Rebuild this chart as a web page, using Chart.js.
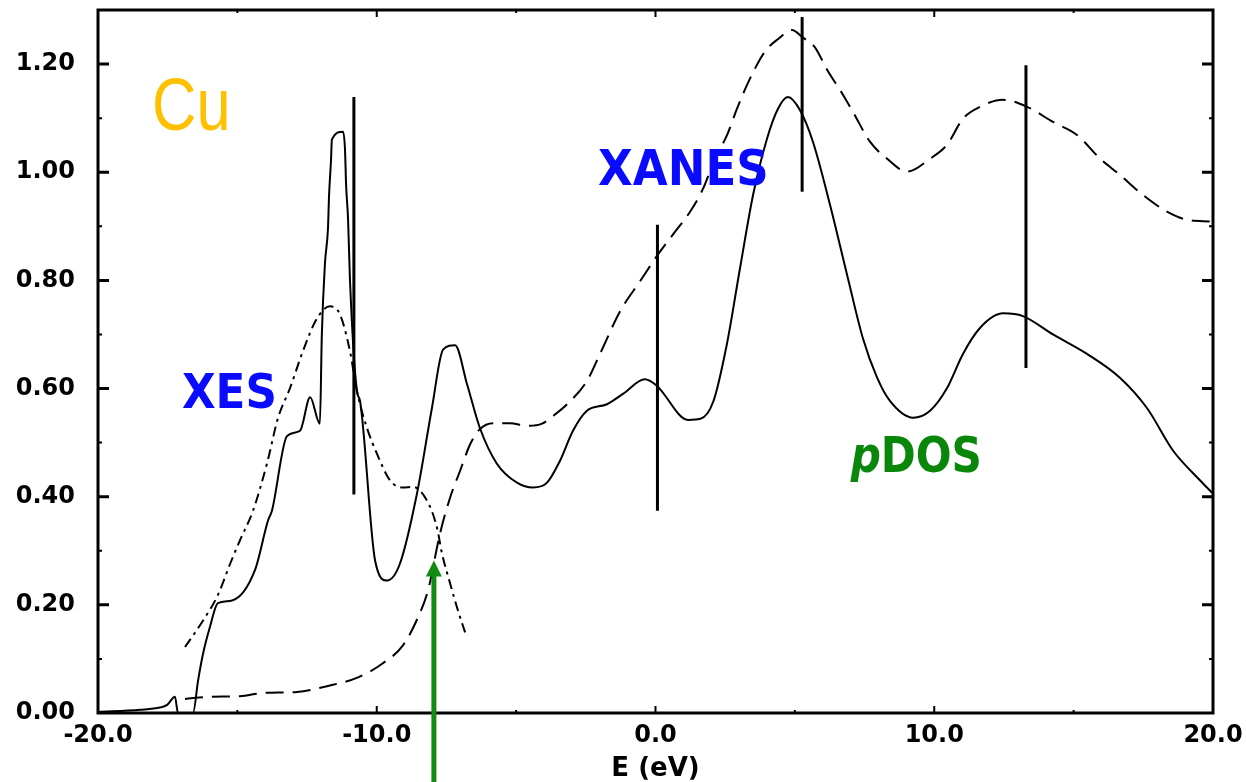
<!DOCTYPE html>
<html>
<head>
<meta charset="utf-8">
<script src="https://cdn.jsdelivr.net/npm/chart.js@4.4.1/dist/chart.umd.min.js"></script>
<style>
  html, body { margin: 0; padding: 0; background: #fff; overflow: hidden; }
  canvas { display: block; }
</style>
</head>
<body>
<canvas id="spectrumChart" width="1246" height="782"></canvas>
<script>
// Cu K-edge: XES, XANES and p-DOS, energy relative to E_F

const xTickValues = [-20, -10, 0, 10, 20];
const xTickLabels = ['-20.0', '-10.0', '0.0', '10.0', '20.0'];
const xTickMarks = [-15, -10, -5, 0, 5, 10, 15];
const yTickValues = [0, 0.2, 0.4, 0.6, 0.8, 1.0, 1.2];
const yTickLabels = ['0.00', '0.20', '0.40', '0.60', '0.80', '1.00', '1.20'];
const yTickMarks = [0.1, 0.2, 0.3, 0.4, 0.5, 0.6, 0.7, 0.8, 0.9, 1.0, 1.1, 1.2];

// p-DOS (solid)
const pdosE = [-20, -18.49, -17.78, -17.52, -17.24, -17.13, -16.59, -16.41, -16.23, -15.98, -15.70, -15.19,
  -14.37, -13.90, -13.76, -13.22, -12.75, -12.39, -12.04, -11.97, -11.86, -11.75, -11.71, -11.64, -11.61,
  -11.21, -11.14, -11.10, -11.03, -10.96, -10.71, -10.60, -10.06, -9.63, -9.17, -8.56, -8.02, -7.62,
  -7.19, -6.76, -6.30, -5.69, -4.97, -4.39, -3.89, -3.43, -2.96, -2.46, -1.74, -1.17, -0.38, 0.05,
  0.16, 1.17, 1.61, 2.08, 2.56, 3.03, 3.50, 4.00, 4.39, 4.75, 5.18, 5.65, 6.26, 6.87, 7.44, 7.95,
  8.41, 9.24, 9.85, 10.46, 11.03, 11.64, 12.47, 13.18, 14.26, 15.48, 16.66, 17.63, 18.57, 19.54, 19.97];
const pdosValues = [0.002, 0.006, 0.010, 0.015, 0.030, 0.0, 0.0, 0.06, 0.11, 0.16, 0.203, 0.208,
  0.264, 0.356, 0.374, 0.512, 0.522, 0.584, 0.535, 0.70, 0.83, 0.896, 0.958, 1.023, 1.06,
  1.075, 1.043, 0.977, 0.914, 0.80, 0.595, 0.577, 0.282, 0.245, 0.276, 0.405, 0.564, 0.672,
  0.680, 0.608, 0.527, 0.461, 0.426, 0.417, 0.426, 0.466, 0.522, 0.559, 0.571, 0.590, 0.617, 0.605,
  0.599, 0.542, 0.544, 0.577, 0.682, 0.822, 0.958, 1.062, 1.117, 1.139, 1.115, 1.056, 0.940, 0.811, 0.693, 0.620,
  0.577, 0.546, 0.559, 0.601, 0.664, 0.712, 0.739, 0.734, 0.700, 0.664, 0.620, 0.564, 0.485, 0.430, 0.407];

// XANES (long dashes)
const xanesE = [-16.88, -15.98, -14.91, -14.08, -12.86, -11.75, -10.67, -9.78, -9.06, -8.52, -8.16, -7.73,
  -7.37, -7.01, -6.65, -6.30, -5.83, -5.22, -4.61, -4.07, -3.68, -3.17, -2.46, -1.99, -1.27, -0.56,
  0.09, 0.63, 1.24, 1.71, 2.13, 2.57, 2.92, 3.28, 3.75, 4.00, 4.39, 4.90, 5.26, 5.72, 6.15, 6.73,
  7.09, 7.70, 8.31, 9.02, 9.85, 10.46, 11.03, 11.64, 12.47, 13.33, 14.26, 15.12, 15.95, 16.66, 17.49,
  18.35, 19.07, 19.89];
const xanesValues = [0.026, 0.030, 0.031, 0.037, 0.039, 0.050, 0.066, 0.092, 0.125, 0.177, 0.227, 0.332,
  0.398, 0.448, 0.497, 0.525, 0.536, 0.536, 0.531, 0.535, 0.549, 0.571, 0.614, 0.664, 0.743, 0.798,
  0.848, 0.885, 0.927, 0.970, 1.025, 1.069, 1.117, 1.161, 1.209, 1.228, 1.246, 1.263, 1.250, 1.231, 1.190, 1.143,
  1.111, 1.056, 1.025, 1.001, 1.025, 1.051, 1.099, 1.121, 1.134, 1.121, 1.093, 1.069, 1.025, 0.995, 0.958,
  0.927, 0.912, 0.909];

// XES (dash-dot)
const xesE = [-16.88, -16.23, -15.70, -15.26, -14.91, -14.44, -13.94, -13.54, -13.11, -12.65, -12.14,
  -11.68, -11.32, -10.96, -10.71, -10.35, -9.99, -9.52, -9.06, -8.70, -8.20, -7.84, -7.66, -7.37, -7.12, -6.83];
const xesValues = [0.122, 0.171, 0.218, 0.276, 0.319, 0.374, 0.461, 0.546, 0.601, 0.669, 0.730,
  0.752, 0.737, 0.669, 0.595, 0.527, 0.479, 0.430, 0.417, 0.418, 0.393, 0.343, 0.295, 0.240, 0.195, 0.149];

// vertical marker lines
const markerE = [-10.82, 0.07, 5.26, 13.29];
const markerTop = [1.139, 0.903, 1.287, 1.198];
const markerBottom = [0.404, 0.374, 0.964, 0.638];

// green arrow (energy, value of the tip)
const arrowE = -7.95;
const arrowTip = 0.282;

const labelFont = "'DejaVu Sans', sans-serif";
const textNotes = [
  { parts: [{ text: 'Cu', font: "74px 'Liberation Sans', sans-serif" }], x: -18.06, y: 1.078, scaleX: 0.83, color: '#ffc000' },
  { parts: [{ text: 'XANES', font: 'bold 49px ' + labelFont }], x: -2.06, y: 0.977, scaleX: 0.92, color: '#0a0aff' },
  { parts: [{ text: 'XES', font: 'bold 48px ' + labelFont }], x: -16.99, y: 0.564, scaleX: 0.91, color: '#0a0aff' },
  { parts: [{ text: 'p', font: 'italic bold 49px ' + labelFont }, { text: 'DOS', font: 'bold 49px ' + labelFont }],
    x: 7.0, y: 0.445, scaleX: 0.86, color: '#0a870a' }
];

function toPoints(xs, ys) {
  return xs.map((x, i) => ({ x: x, y: ys[i] }));
}

const datasets = [
  {
    data: toPoints(pdosE, pdosValues),
    borderColor: '#000', borderWidth: 2, cubicInterpolationMode: 'monotone'
  },
  {
    data: toPoints(xanesE, xanesValues),
    borderColor: '#000', borderWidth: 2, borderDash: [18, 9], cubicInterpolationMode: 'monotone'
  },
  {
    data: toPoints(xesE, xesValues),
    borderColor: '#000', borderWidth: 2, borderDash: [10, 5, 3, 5], cubicInterpolationMode: 'monotone'
  }
];
markerE.forEach((e, i) => {
  datasets.push({
    data: [{ x: e, y: markerBottom[i] }, { x: e, y: markerTop[i] }],
    borderColor: '#000', borderWidth: 3
  });
});

// frame, inward tick marks, text notes and arrow
const decorPlugin = {
  id: 'decor',
  afterDraw(chart) {
    const ctx = chart.ctx;
    const area = chart.chartArea;
    const xs = chart.scales.x;
    const ys = chart.scales.y;
    ctx.save();
    ctx.strokeStyle = '#000';

    ctx.lineWidth = 2;
    xTickMarks.forEach(v => {
      const px = xs.getPixelForValue(v);
      const len = v % 10 === 0 ? 7 : 3;
      ctx.beginPath();
      ctx.moveTo(px, area.bottom); ctx.lineTo(px, area.bottom - len);
      ctx.moveTo(px, area.top); ctx.lineTo(px, area.top + len);
      ctx.stroke();
    });
    yTickMarks.forEach(v => {
      const py = ys.getPixelForValue(v);
      const major = Math.abs(v * 5 - Math.round(v * 5)) < 1e-6;
      const len = major ? 11 : 4;
      ctx.lineWidth = major ? 3 : 2;
      ctx.beginPath();
      ctx.moveTo(area.left, py); ctx.lineTo(area.left + len, py);
      ctx.moveTo(area.right, py); ctx.lineTo(area.right - len, py);
      ctx.stroke();
    });

    ctx.lineWidth = 3;
    ctx.strokeRect(area.left, area.top, area.right - area.left, area.bottom - area.top);

    textNotes.forEach(note => {
      ctx.save();
      ctx.translate(xs.getPixelForValue(note.x), ys.getPixelForValue(note.y));
      ctx.scale(note.scaleX, 1);
      ctx.fillStyle = note.color;
      ctx.textBaseline = 'alphabetic';
      ctx.textAlign = 'left';
      let px = 0;
      note.parts.forEach(part => {
        ctx.font = part.font;
        ctx.fillText(part.text, px, 0);
        px += ctx.measureText(part.text).width;
      });
      ctx.restore();
    });

    const ax = xs.getPixelForValue(arrowE);
    const ay = ys.getPixelForValue(arrowTip);
    ctx.fillStyle = '#138a13';
    ctx.fillRect(ax - 2.5, ay + 14, 5, chart.height - ay - 14);
    ctx.beginPath();
    ctx.moveTo(ax, ay);
    ctx.lineTo(ax - 8, ay + 16);
    ctx.lineTo(ax + 8, ay + 16);
    ctx.closePath();
    ctx.fill();
    ctx.restore();
  }
};

const tickFont = { family: labelFont, size: 24, weight: 'bold' };

new Chart(document.getElementById('spectrumChart'), {
  type: 'line',
  data: { datasets: datasets },
  options: {
    responsive: false,
    animation: false,
    layout: { padding: { top: 10, right: 33, left: 0, bottom: 0 } },
    elements: { point: { radius: 0 } },
    plugins: { legend: { display: false }, tooltip: { enabled: false } },
    scales: {
      x: {
        type: 'linear',
        min: -20,
        max: 20,
        grid: { display: false, drawTicks: false },
        border: { display: false },
        afterBuildTicks: axis => { axis.ticks = xTickValues.map(v => ({ value: v })); },
        afterFit: axis => {
          axis.height = 69;
          axis.paddingLeft = 0;
          axis.paddingRight = 0;
        },
        ticks: {
          autoSkip: false, maxRotation: 0, padding: 8, color: '#000', font: tickFont,
          callback: (value, index) => xTickLabels[index]
        },
        title: {
          display: true, text: 'E (eV)', color: '#000',
          font: { family: labelFont, size: 26, weight: 'bold', lineHeight: 1 },
          padding: { top: 0, bottom: 0 }
        }
      },
      y: {
        type: 'linear',
        min: 0,
        max: 1.3,
        grid: { display: false, drawTicks: false },
        border: { display: false },
        afterBuildTicks: axis => { axis.ticks = yTickValues.map(v => ({ value: v })); },
        afterFit: axis => {
          axis.width = 98;
          axis.paddingTop = 0;
          axis.paddingBottom = 0;
        },
        ticks: {
          padding: 23, color: '#000', font: tickFont,
          callback: (value, index) => yTickLabels[index]
        }
      }
    }
  },
  plugins: [decorPlugin]
});
</script>
</body>
</html>
